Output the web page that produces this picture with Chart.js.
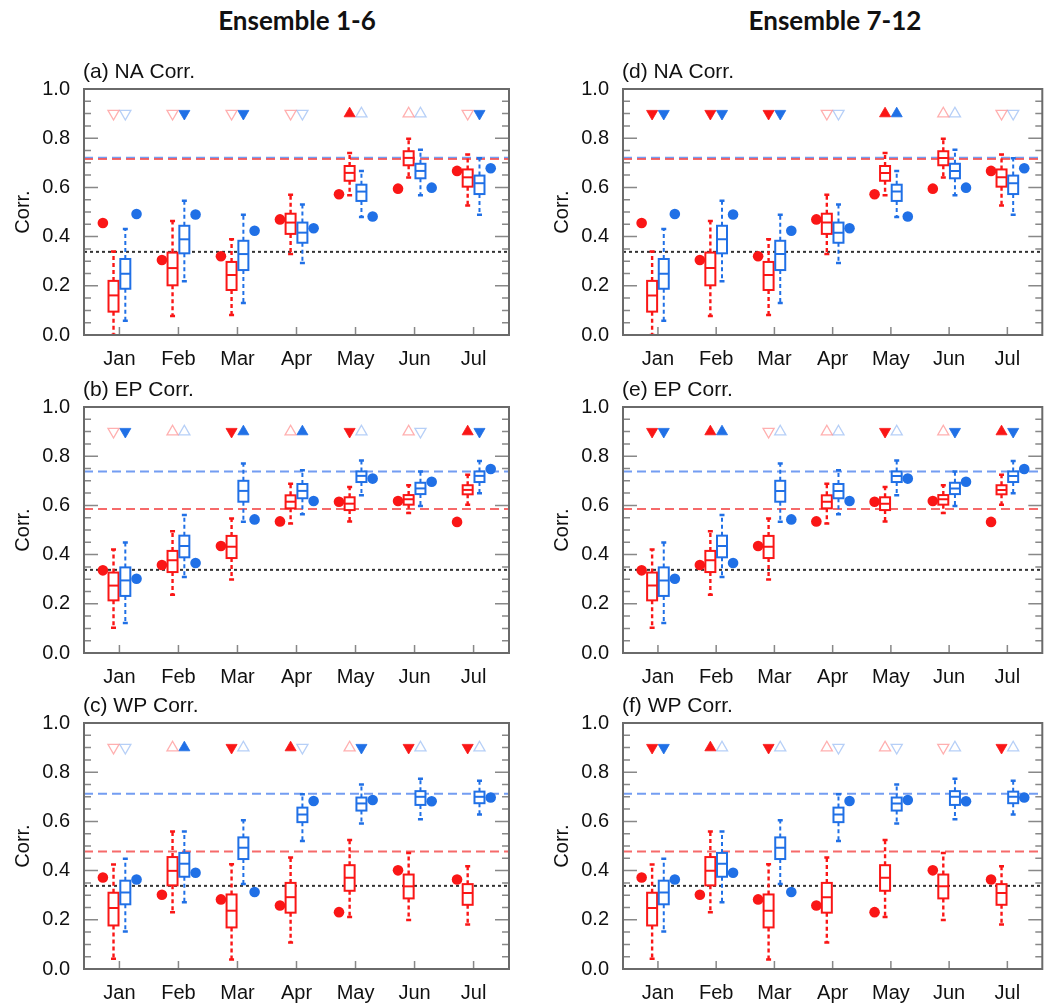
<!DOCTYPE html>
<html>
<head>
<meta charset="utf-8">
<script src="https://cdn.jsdelivr.net/npm/chart.js@4.4.1/dist/chart.umd.min.js"></script>
<style>
  body { margin: 0; background: #fff; width: 1050px; height: 1004px; overflow: hidden; position: relative; }
  .hd { position: absolute; top: 4px; font: bold 26px Lato, sans-serif; color: #111; transform: translateX(-50%); white-space: nowrap; }
  canvas { position: absolute; }
</style>
</head>
<body>
<div class="hd" style="left:297px">Ensemble 1-6</div>
<div class="hd" style="left:835px">Ensemble 7-12</div>
<script>
// ---- data ----
const months = ['Jan', 'Feb', 'Mar', 'Apr', 'May', 'Jun', 'Jul'];
const yTicks = [0, 0.2, 0.4, 0.6, 0.8, 1.0];
const sigLevel = 0.338;   // black dotted line
const markLevel = 0.9;    // row of triangles

// boxes: [min, q1, median, q3, max] per month
const naRedBox = [[0.0, 0.095, 0.161, 0.22, 0.339], [0.077, 0.202, 0.272, 0.335, 0.463], [0.081, 0.183, 0.244, 0.297, 0.389],
  [0.329, 0.411, 0.457, 0.493, 0.57], [0.568, 0.627, 0.659, 0.687, 0.74], [0.64, 0.69, 0.72, 0.747, 0.798], [0.526, 0.603, 0.641, 0.673, 0.734]];
const naBlueBox = [[0.058, 0.188, 0.249, 0.309, 0.431], [0.218, 0.332, 0.389, 0.444, 0.546], [0.13, 0.264, 0.329, 0.383, 0.489],
  [0.293, 0.375, 0.416, 0.457, 0.53], [0.48, 0.545, 0.583, 0.611, 0.667], [0.568, 0.637, 0.667, 0.696, 0.753], [0.489, 0.573, 0.617, 0.648, 0.718]];
const naRedDot = [0.455, 0.305, 0.32, 0.47, 0.572, 0.595, 0.667];
const naBlueDot = [0.492, 0.49, 0.424, 0.434, 0.482, 0.599, 0.678];
const naRedRef = 0.715, naBlueRef = 0.721;

const epRedBox = [[0.103, 0.214, 0.274, 0.327, 0.421], [0.237, 0.329, 0.377, 0.415, 0.495], [0.299, 0.386, 0.432, 0.476, 0.547],
  [0.526, 0.588, 0.615, 0.641, 0.688], [0.535, 0.581, 0.607, 0.633, 0.675], [0.569, 0.603, 0.625, 0.642, 0.682], [0.603, 0.645, 0.663, 0.682, 0.725]];
const epBlueBox = [[0.122, 0.232, 0.295, 0.348, 0.449], [0.309, 0.389, 0.435, 0.477, 0.561], [0.534, 0.615, 0.659, 0.70, 0.77],
  [0.564, 0.629, 0.659, 0.687, 0.743], [0.641, 0.695, 0.72, 0.738, 0.783], [0.598, 0.646, 0.669, 0.692, 0.738], [0.649, 0.695, 0.72, 0.738, 0.78]];
const epRedDot = [0.336, 0.358, 0.435, 0.535, 0.615, 0.618, 0.533];
const epBlueDot = [0.302, 0.366, 0.543, 0.618, 0.709, 0.696, 0.748];
const epRedRef = 0.585, epBlueRef = 0.738;

const wpRedBox = [[0.042, 0.177, 0.248, 0.31, 0.425], [0.231, 0.34, 0.399, 0.455, 0.559], [0.039, 0.169, 0.237, 0.303, 0.426],
  [0.108, 0.229, 0.292, 0.35, 0.453], [0.211, 0.318, 0.371, 0.422, 0.524], [0.199, 0.287, 0.336, 0.384, 0.472], [0.181, 0.261, 0.309, 0.345, 0.418]];
const wpBlueBox = [[0.152, 0.263, 0.311, 0.359, 0.448], [0.271, 0.375, 0.428, 0.472, 0.559], [0.346, 0.447, 0.493, 0.535, 0.605],
  [0.52, 0.597, 0.628, 0.656, 0.71], [0.591, 0.644, 0.673, 0.697, 0.75], [0.609, 0.667, 0.70, 0.723, 0.773], [0.628, 0.674, 0.70, 0.721, 0.765]];
const wpRedDot = [0.372, 0.302, 0.283, 0.258, 0.231, 0.401, 0.364];
const wpBlueDot = [0.364, 0.391, 0.313, 0.683, 0.687, 0.682, 0.697];
const wpRedRef = 0.478, wpBlueRef = 0.712;

// triangles: F = filled, O = open; u = up, d = down
const aRedSig = ['Od', 'Od', 'Od', 'Od', 'Fu', 'Ou', 'Od'];
const aBlueSig = ['Od', 'Fd', 'Fd', 'Od', 'Ou', 'Ou', 'Fd'];
const bRedSig = ['Od', 'Ou', 'Fd', 'Ou', 'Fd', 'Ou', 'Fu'];
const bBlueSig = ['Fd', 'Ou', 'Fu', 'Fu', 'Ou', 'Od', 'Fd'];
const cRedSig = ['Od', 'Ou', 'Fd', 'Fu', 'Ou', 'Fd', 'Fd'];
const cBlueSig = ['Od', 'Fu', 'Ou', 'Od', 'Fd', 'Ou', 'Ou'];
const dRedSig = ['Fd', 'Fd', 'Fd', 'Od', 'Fu', 'Ou', 'Od'];
const dBlueSig = ['Fd', 'Fd', 'Fd', 'Od', 'Fu', 'Ou', 'Od'];
const eRedSig = ['Fd', 'Fu', 'Od', 'Ou', 'Fd', 'Ou', 'Fu'];
const eBlueSig = ['Fd', 'Fu', 'Ou', 'Ou', 'Ou', 'Fd', 'Fd'];
const fRedSig = ['Fd', 'Fu', 'Fd', 'Ou', 'Ou', 'Od', 'Fd'];
const fBlueSig = ['Fd', 'Ou', 'Ou', 'Od', 'Od', 'Ou', 'Ou'];

// ---- styling ----
const RED = 'rgb(250,22,22)', BLUE = 'rgb(32,112,230)';
const PALE_RED = 'rgba(255,110,110,0.55)', PALE_BLUE = 'rgba(110,160,240,0.5)';
const FONT = 'Liberation Sans, Arial, sans-serif';
const PAD_TOP = 36, PLOT_H = 246, X_H = 35, Y_W = 84;

// draws box-whisker marks, panel title, frame and inward ticks
const boxPlugin = {
  id: 'boxes',
  afterDatasetDraw(chart, args, opts) {
    if (args.index !== 4) return;   // right after the dotted line, below dots
    const ctx = chart.ctx, xs = chart.scales.x, ys = chart.scales.y;
    const ca = chart.chartArea;
    ctx.save();
    ctx.beginPath();
    ctx.rect(ca.left, ca.top, ca.right - ca.left, ca.bottom - ca.top);
    ctx.clip();
    [[opts.red, -0.1, RED, 2.4], [opts.blue, 0.1, BLUE, 2]].forEach(([boxes, off, col, ww]) => {
      boxes.forEach((b, i) => {
        const x = xs.getPixelForValue(i + 1 + off);
        const [lo, q1, md, q3, hi] = b.map(v => ys.getPixelForValue(v));
        ctx.strokeStyle = col;
        ctx.lineWidth = ww;
        ctx.setLineDash([4, 3]);
        ctx.beginPath();
        ctx.moveTo(x, q3); ctx.lineTo(x, hi);
        ctx.moveTo(x, q1); ctx.lineTo(x, lo);
        ctx.stroke();
        ctx.setLineDash([]);
        ctx.lineWidth = 2.5;
        ctx.beginPath();
        ctx.moveTo(x - 2.5, hi); ctx.lineTo(x + 2.5, hi);
        ctx.moveTo(x - 2.5, lo); ctx.lineTo(x + 2.5, lo);
        ctx.stroke();
        const hw = 5;
        ctx.fillStyle = '#fff';
        ctx.fillRect(x - hw, q3, hw * 2, q1 - q3);
        ctx.lineWidth = 2;
        ctx.strokeRect(x - hw, q3, hw * 2, q1 - q3);
        ctx.beginPath();
        ctx.moveTo(x - hw, md); ctx.lineTo(x + hw, md);
        ctx.stroke();
      });
    });
    ctx.restore();
  },
  afterDraw(chart, args, opts) {
    const ctx = chart.ctx, xs = chart.scales.x, ys = chart.scales.y;
    const ca = chart.chartArea;
    ctx.save();
    ctx.strokeStyle = '#888';
    ctx.lineWidth = 1.5;
    ctx.beginPath();
    for (let k = 0; k <= 20; k++) {
      const y = ys.getPixelForValue(k * 0.05);
      const len = (k % 4 === 0) ? 14 : 7;
      ctx.moveTo(ca.left, y); ctx.lineTo(ca.left + len, y);
      ctx.moveTo(ca.right, y); ctx.lineTo(ca.right - len, y);
    }
    months.forEach((m, i) => {
      const x = xs.getPixelForValue(i + 1);
      ctx.moveTo(x, ca.bottom); ctx.lineTo(x, ca.bottom - 8);
    });
    ctx.stroke();
    ctx.strokeStyle = '#6a6a6a';
    ctx.lineWidth = 2;
    ctx.strokeRect(ca.left, ca.top, ca.right - ca.left, ca.bottom - ca.top);
    ctx.fillStyle = '#111';
    ctx.font = '21px ' + FONT;
    ctx.textBaseline = 'alphabetic';
    ctx.textAlign = 'left';
    ctx.fillText(opts.title, ca.left - 1, ca.top - 11);
    ctx.restore();
  }
};

function sigDataset(codes, off) {
  const isRed = off < 0;
  const solid = isRed ? RED : BLUE, pale = isRed ? PALE_RED : PALE_BLUE;
  return {
    data: codes.map((c, i) => ({ x: i + 1 + off, y: markLevel })),
    pointStyle: 'triangle',
    pointRadius: 6.4,
    rotation: codes.map(c => c[1] === 'd' ? 180 : 0),
    backgroundColor: codes.map(c => c[0] === 'F' ? solid : 'rgba(0,0,0,0)'),
    borderColor: codes.map(c => c[0] === 'F' ? solid : pale),
    borderWidth: codes.map(c => c[0] === 'F' ? 0.8 : 1.3)
  };
}

function dotDataset(vals, off, col) {
  return {
    data: vals.map((v, i) => ({ x: i + 1 + off, y: v })),
    pointStyle: 'circle',
    pointRadius: 5.3,
    backgroundColor: col,
    borderColor: col,
    borderWidth: 0
  };
}

function refDataset(v, col, dash, w) {
  return {
    type: 'line',
    data: [{ x: 0.4, y: v }, { x: 7.6, y: v }],
    showLine: true,
    borderColor: col,
    borderDash: dash,
    borderWidth: w,
    pointRadius: 0,
    fill: false
  };
}

function makePanel(left, width, padRight, plotTop, title, boxR, boxB, dotR, dotB, refR, refB, sigR, sigB) {
  const cv = document.createElement('canvas');
  cv.width = width;
  cv.height = PAD_TOP + PLOT_H + X_H;
  cv.style.left = left + 'px';
  cv.style.top = (plotTop - PAD_TOP) + 'px';
  document.body.appendChild(cv);
  new Chart(cv, {
    type: 'scatter',
    data: {
      datasets: [
        sigDataset(sigR, -0.1),
        sigDataset(sigB, 0.1),
        dotDataset(dotR, -0.28, RED),
        dotDataset(dotB, 0.29, BLUE),
        refDataset(sigLevel, '#333', [3, 3], 2),
        refDataset(refR, 'rgba(245,80,80,0.85)', [9, 5], 2),
        refDataset(refB, 'rgba(90,140,240,0.85)', [9, 5], 2)
      ]
    },
    options: {
      responsive: false,
      animation: false,
      events: [],
      layout: { padding: { top: PAD_TOP, right: padRight, left: 0, bottom: 0 } },
      plugins: {
        legend: { display: false },
        tooltip: { enabled: false },
        boxes: { red: boxR, blue: boxB, title: title }
      },
      scales: {
        x: {
          type: 'linear',
          min: 0.4,
          max: 7.6,
          grid: { display: false, drawTicks: false },
          border: { display: false },
          afterBuildTicks: s => { s.ticks = months.map((m, i) => ({ value: i + 1 })); },
          afterFit: s => { s.height = X_H; },
          ticks: {
            padding: 12,
            color: '#111',
            font: { family: FONT, size: 20 },
            callback: v => months[Math.round(v) - 1]
          }
        },
        y: {
          min: 0,
          max: 1,
          grid: { display: false, drawTicks: false },
          border: { display: false },
          afterBuildTicks: s => { s.ticks = yTicks.map(v => ({ value: v })); },
          afterFit: s => { s.width = Y_W; },
          ticks: {
            padding: 14,
            color: '#111',
            font: { family: FONT, size: 20 },
            callback: v => v.toFixed(1)
          },
          title: {
            display: true,
            text: 'Corr.',
            color: '#111',
            font: { family: FONT, size: 20 },
            padding: { top: 11, bottom: 0 }
          }
        }
      }
    },
    plugins: [boxPlugin]
  });
}

const rowTops = [89, 407, 723];
// left column: Ensemble 1-6
makePanel(0, 525, 16, rowTops[0], '(a) NA Corr.', naRedBox, naBlueBox, naRedDot, naBlueDot, naRedRef, naBlueRef, aRedSig, aBlueSig);
makePanel(0, 525, 16, rowTops[1], '(b) EP Corr.', epRedBox, epBlueBox, epRedDot, epBlueDot, epRedRef, epBlueRef, bRedSig, bBlueSig);
makePanel(0, 525, 16, rowTops[2], '(c) WP Corr.', wpRedBox, wpBlueBox, wpRedDot, wpBlueDot, wpRedRef, wpBlueRef, cRedSig, cBlueSig);
// right column: Ensemble 7-12
makePanel(539, 511, 2, rowTops[0], '(d) NA Corr.', naRedBox, naBlueBox, naRedDot, naBlueDot, naRedRef, naBlueRef, dRedSig, dBlueSig);
makePanel(539, 511, 2, rowTops[1], '(e) EP Corr.', epRedBox, epBlueBox, epRedDot, epBlueDot, epRedRef, epBlueRef, eRedSig, eBlueSig);
makePanel(539, 511, 2, rowTops[2], '(f) WP Corr.', wpRedBox, wpBlueBox, wpRedDot, wpBlueDot, wpRedRef, wpBlueRef, fRedSig, fBlueSig);
</script>
</body>
</html>
